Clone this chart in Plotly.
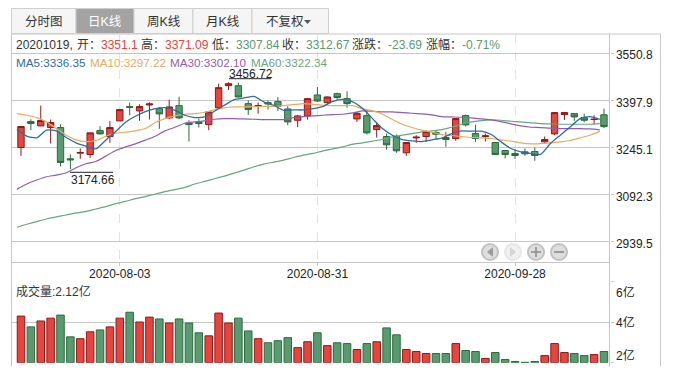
import plotly.graph_objects as go

W, H = 674, 373
date_labels = ["2020-08-03", "2020-08-31", "2020-09-28"]
date_index = [10, 30, 50]
price_ticks = [2939.5, 3092.3, 3245.1, 3397.9, 3550.8]
volume_ticks = [2, 4, 6]
volume_tick_labels = ["2亿", "4亿", "6亿"]

opens = [3245.1,3329.0,3315.1,3309.7,3309.7,3208.5,3226.8,3222.5,3300.0,3280.6,3331.2,3377.5,3363.5,3382.8,3371.0,3340.9,3380.7,3324.7,3328.0,3319.4,
         3373.2,3445.2,3445.2,3387.1,3378.5,3390.4,3393.6,3369.9,3333.3,3347.3,3415.1,3390.4,3419.4,3403.3,3337.6,3348.4,3303.2,3280.6,3281.7,3227.9,
         3276.3,3280.6,3293.5,3277.4,3274.2,3348.4,3290.3,3280.6,3261.3,3235.4,3225.8,3231.1,3232.2,3263.4,3289.2,3351.6,3354.9,3342.0,3335.5,3351.1]
highs = [3313.5,3336.6,3380.7,3335.5,3320.4,3222.5,3241.9,3293.0,3314.0,3331.2,3368.2,3390.4,3385.0,3391.4,3376.4,3400.1,3409.7,3333.3,3338.7,3360.6,
         3451.7,3456.72,3454.9,3397.9,3390.4,3397.9,3408.7,3378.5,3350.6,3405.4,3440.9,3410.8,3422.6,3426.9,3360.2,3365.6,3324.7,3290.3,3287.1,3261.8,
         3284.9,3301.1,3301.1,3295.7,3339.2,3351.6,3319.4,3290.3,3263.4,3236.0,3239.7,3241.9,3245.1,3280.6,3358.5,3360.2,3355.3,3354.9,3349.5,3371.09]
lows = [3218.2,3301.1,3314.0,3258.0,3183.8,3174.66,3208.5,3211.8,3287.1,3260.2,3330.8,3349.5,3331.2,3335.5,3305.4,3336.6,3336.6,3264.5,3309.7,3301.1,
        3371.0,3431.3,3406.5,3350.6,3354.9,3367.8,3363.5,3317.2,3310.7,3335.5,3392.5,3386.1,3400.1,3374.2,3328.0,3287.1,3277.4,3237.6,3227.9,3218.2,
        3260.2,3263.4,3272.0,3247.3,3266.6,3312.9,3263.4,3264.5,3221.5,3209.6,3207.5,3218.2,3202.1,3260.2,3284.9,3334.4,3331.2,3326.9,3320.4,3307.84]
closes = [3312.9,3322.6,3332.3,3325.8,3196.7,3205.3,3229.0,3292.5,3289.2,3309.7,3367.8,3375.3,3377.5,3386.1,3353.8,3376.4,3340.9,3319.4,3322.6,3360.2,
          3438.8,3451.7,3408.7,3367.8,3380.7,3386.1,3378.5,3328.0,3347.3,3403.3,3395.7,3408.7,3406.5,3387.1,3355.9,3292.5,3316.1,3253.7,3234.4,3261.3,
          3278.5,3296.8,3288.2,3270.9,3338.7,3318.3,3274.2,3282.8,3222.5,3222.5,3219.3,3224.7,3219.3,3270.9,3358.1,3358.1,3344.1,3333.3,3336.6,3312.67]
ma5 = [3303.2,3281.7,3276.3,3301.1,3298.9,3277.4,3260.2,3249.4,3240.8,3268.8,3296.8,3326.9,3346.3,3361.3,3371.0,3374.2,3365.6,3349.5,3342.0,3344.1,
       3362.4,3381.8,3400.1,3405.4,3410.8,3392.5,3381.8,3365.6,3366.7,3366.7,3371.0,3378.5,3394.7,3401.1,3392.5,3371.0,3338.7,3306.4,3284.9,3270.9,
       3266.6,3264.5,3269.9,3275.2,3290.3,3298.9,3297.8,3297.8,3287.1,3263.4,3241.9,3231.1,3225.8,3222.5,3258.0,3284.9,3311.8,3338.7,3345.2,3336.35]
ma10 = [3354.9,3349.5,3342.0,3328.0,3306.4,3284.9,3269.9,3264.5,3267.7,3281.7,3291.4,3294.6,3298.9,3306.4,3325.8,3338.7,3347.3,3352.7,3354.9,3359.2,
        3366.7,3373.2,3376.4,3376.4,3377.5,3378.5,3378.5,3380.7,3383.9,3387.1,3385.0,3381.8,3380.7,3380.7,3380.7,3369.9,3363.5,3352.7,3335.5,3320.4,
        3309.7,3301.1,3294.6,3287.1,3283.9,3280.6,3277.4,3276.3,3274.2,3269.9,3265.6,3260.2,3256.9,3258.0,3260.2,3263.4,3267.7,3276.3,3284.9,3297.22]
ma30 = [3109.6,3126.8,3139.7,3150.4,3155.8,3163.4,3179.5,3192.4,3199.9,3217.1,3235.4,3247.3,3257.0,3268.8,3281.7,3298.9,3310.7,3323.7,3328.0,3331.2,
        3336.6,3338.7,3338.7,3337.6,3336.6,3335.5,3335.5,3335.5,3342.0,3345.2,3347.3,3349.5,3351.6,3352.7,3357.0,3363.5,3362.4,3360.2,3360.2,3358.1,
        3355.9,3353.8,3350.6,3345.2,3344.1,3343.0,3340.9,3337.6,3334.4,3329.0,3321.5,3315.1,3310.7,3309.7,3307.5,3306.4,3306.4,3306.4,3305.4,3302.10]
ma60 = [2986.9,2996.6,3005.2,3013.8,3020.3,3026.7,3033.2,3038.5,3046.1,3053.6,3063.3,3070.8,3079.4,3085.9,3094.5,3102.0,3108.5,3116.0,3126.8,3135.4,
        3144.0,3152.6,3162.3,3172.0,3182.7,3191.3,3197.8,3204.2,3212.8,3220.4,3225.8,3234.4,3240.8,3247.3,3255.9,3260.2,3265.6,3270.9,3279.5,3284.9,
        3290.3,3295.7,3298.9,3303.2,3310.7,3320.4,3328.0,3332.3,3334.4,3333.3,3330.1,3328.0,3324.7,3322.6,3321.5,3320.4,3320.4,3320.4,3320.4,3322.34]
volume = [4.29,3.76,4.05,4.19,4.34,3.27,3.18,3.52,3.61,3.76,4.19,4.48,4.00,4.24,4.15,3.95,4.15,3.95,3.47,3.32,
          4.44,3.95,4.19,3.56,3.18,2.98,3.08,3.23,2.74,3.03,3.47,2.84,2.98,2.94,2.65,2.94,3.03,3.71,3.37,2.65,
          2.55,2.45,2.45,2.45,2.94,2.60,2.55,2.21,2.50,2.16,2.06,2.02,2.06,2.35,2.94,2.50,2.45,2.35,2.40,2.55]

RED, RED_D = "#e6453d", "#8c1a1c"
GREEN, GREEN_D = "#5a9a70", "#2b6a3c"
BLUE, ORANGE, PURPLE, MAGREEN = "#2f6c9e", "#e8ab5f", "#8f5fad", "#6aa582"
GRID = "#c6c6c6"
TXT = "#333333"
FONT = "Liberation Sans, Noto Sans CJK SC, sans-serif"


def fx(p):
    return p / W


def fy(p):
    return 1 - p / H


idx = list(range(len(closes)))
ma_x = [i - 0.42 for i in idx]
L, R = 11.5, 609.5
x_range = [-0.96, 59.56]
main_top, main_bot = 34.0, 262.3
vol_top, vol_bot = 281.3, 362.7
y_range = [2873.5, 3612.5]

fig = go.Figure()
fig.add_trace(go.Candlestick(
    x=idx, open=opens, high=highs, low=lows, close=closes, whiskerwidth=0,
    increasing=dict(fillcolor=RED, line=dict(color=RED_D, width=1)),
    decreasing=dict(fillcolor=GREEN, line=dict(color=GREEN_D, width=1)),
    xaxis="x", yaxis="y", showlegend=False))
for vals, col, w in [(ma60, MAGREEN, 1.2), (ma30, PURPLE, 1.2), (ma10, ORANGE, 1.2), (ma5, BLUE, 1.3)]:
    fig.add_trace(go.Scatter(x=ma_x, y=vals, mode="lines", line=dict(color=col, width=w, shape="spline", smoothing=0.6),
                             xaxis="x", yaxis="y", showlegend=False))
up = [c >= o for o, c in zip(opens, closes)]
fig.add_trace(go.Bar(
    x=idx, y=[v - 2 for v in volume], base=2, width=0.76, xaxis="x2", yaxis="y2", showlegend=False,
    marker=dict(color=[RED if u else GREEN for u in up],
                line=dict(color=[RED_D if u else GREEN_D for u in up], width=1))))

shapes = []


def line(x0, y0, x1, y1, color=GRID, width=1, layer="below", dash=None):
    shapes.append(dict(type="line", xref="paper", yref="paper", x0=fx(x0), x1=fx(x1), y0=fy(y0), y1=fy(y1),
                       line=dict(color=color, width=width, dash=dash), layer=layer))


# frame
line(L, main_top, L, 366.5)
line(R, main_top, R, 366.5)
line(660.5, main_top, 660.5, 366.5)
line(L, main_top, 660.5, main_top)
# tabs
tabs = [("分时图", 11.5, 76), ("日K线", 76, 134), ("周K线", 134, 193), ("月K线", 193, 252), ("不复权", 252, 328.5)]
annotations = []


def text(t, x, y, color=TXT, size=12, xanchor="left", **kw):
    annotations.append(dict(text=t, x=fx(x), y=fy(y), xref="paper", yref="paper", showarrow=False,
                            xanchor=xanchor, yanchor="middle", borderpad=0,
                            font=dict(family=FONT, size=size, color=color), **kw))


for i, (t, a, b) in enumerate(tabs):
    active = i == 1
    shapes.append(dict(type="rect", xref="paper", yref="paper", x0=fx(a), x1=fx(b), y0=fy(33.5), y1=fy(8.5),
                       fillcolor="#a3a3a3" if active else "#f5f5f5", line=dict(color="#cfcfcf", width=1), layer="below"))
    if i == 4:
        text(t, 265, 21.5, color=TXT, size=12.5)
    else:
        text(t, (a + b) / 2, 21.5, color="#ffffff" if active else TXT, size=12.5, xanchor="center")
shapes.append(dict(type="path", xref="paper", yref="paper",
                   path=f"M {fx(304)} {fy(20)} L {fx(311)} {fy(20)} L {fx(307.5)} {fy(24)} Z",
                   fillcolor="#555555", line=dict(width=0)))

# info row
info = [("20201019,", 15, TXT), ("开：", 76, TXT), ("3351.1", 100, RED), ("高：", 140, TXT), ("3371.09", 164, RED),
        ("低：", 211, TXT), ("3307.84", 235, GREEN), ("收：", 281, TXT), ("3312.67", 305, GREEN),
        ("涨跌：", 351, TXT), ("-23.69", 387, GREEN), ("涨幅：", 425, TXT), ("-0.71%", 461, GREEN)]
for t, x, c in info:
    text(t, x, 45, color=c)
legend = [("MA5:3336.35", 15, BLUE), ("MA10:3297.22", 89, ORANGE), ("MA30:3302.10", 169, PURPLE), ("MA60:3322.34", 250, MAGREEN)]
for t, x, c in legend:
    text(t, x, 62.5, color=c, size=11.7)
text("成交量:2.12亿", 15, 291)

# volume labels
for lab, y in zip(volume_tick_labels, [355, 322.5, 292]):
    text(lab, 614.5, y, color="#222222")

# extremes
annotations.append(dict(text="3456.72", x=21, y=highs[21], xref="x", yref="y", showarrow=False, xanchor="left", yanchor="middle",
                        xshift=-1, yshift=8, font=dict(family=FONT, size=12, color="#222222")))
line(229, 78.7, 271, 78.7, color="#222222", layer="above")
annotations.append(dict(text="3174.66", x=5, y=lows[5], xref="x", yref="y", showarrow=False, xanchor="left", yanchor="middle",
                        xshift=-1, yshift=-11, font=dict(family=FONT, size=12, color="#222222")))
line(70, 172.3, 113, 172.3, color="#222222", layer="above")

# nav buttons
for i, cx in enumerate([490, 513, 536, 559]):
    faint = i == 1
    shapes.append(dict(type="circle", xref="paper", yref="paper", x0=fx(cx - 8), x1=fx(cx + 8), y0=fy(252 + 8), y1=fy(252 - 8),
                       fillcolor="#f0f0f0" if faint else "#dedede", line=dict(color="#e6e6e6" if faint else "#c2c2c2", width=2), layer="above"))
    g = "#d4d4d4" if faint else "#9c9c9c"
    if i == 0:
        p = f"M {fx(cx+3)} {fy(247)} L {fx(cx+3)} {fy(257)} L {fx(cx-3)} {fy(252)} Z"
    elif i == 1:
        p = f"M {fx(cx-3)} {fy(247)} L {fx(cx-3)} {fy(257)} L {fx(cx+3)} {fy(252)} Z"
    elif i == 2:
        p = (f"M {fx(cx-5)} {fy(251)} L {fx(cx-1)} {fy(251)} L {fx(cx-1)} {fy(247)} L {fx(cx+1)} {fy(247)} L {fx(cx+1)} {fy(251)} "
             f"L {fx(cx+5)} {fy(251)} L {fx(cx+5)} {fy(253)} L {fx(cx+1)} {fy(253)} L {fx(cx+1)} {fy(257)} L {fx(cx-1)} {fy(257)} "
             f"L {fx(cx-1)} {fy(253)} L {fx(cx-5)} {fy(253)} Z")
    else:
        p = f"M {fx(cx-5)} {fy(251)} L {fx(cx+5)} {fy(251)} L {fx(cx+5)} {fy(253)} L {fx(cx-5)} {fy(253)} Z"
    shapes.append(dict(type="path", xref="paper", yref="paper", path=p, fillcolor=g, line=dict(width=0), layer="above"))

fig.update_layout(
    width=W, height=H, autosize=False, margin=dict(l=0, r=0, t=0, b=0),
    paper_bgcolor="#ffffff", plot_bgcolor="rgba(0,0,0,0)", showlegend=False, boxgap=0.08,
    font=dict(family=FONT, size=12, color="#222222"),
    shapes=shapes, annotations=annotations,
    xaxis=dict(domain=[fx(L), fx(R)], range=x_range, anchor="y", tickmode="array", tickvals=date_index, ticktext=date_labels,
               showgrid=True, gridcolor="#e2e2e2", griddash="dash", gridwidth=1, zeroline=False, showline=True, linecolor=GRID,
               ticks="outside", ticklen=3, tickcolor=GRID, ticklabelstandoff=-3, rangeslider=dict(visible=False), fixedrange=True,
               tickfont=dict(family=FONT, size=12, color="#222222")),
    yaxis=dict(domain=[fy(main_bot), fy(main_top)], range=y_range, side="right", anchor="x", tickmode="array", tickvals=price_ticks,
               ticktext=[f"{v:.1f}" for v in price_ticks], showgrid=True, gridcolor=GRID, gridwidth=1, zeroline=False, showline=False,
               ticks="outside", ticklen=3, tickcolor=GRID, ticklabelshift=2, fixedrange=True, tickfont=dict(family=FONT, size=12, color="#222222")),
    xaxis2=dict(domain=[fx(L), fx(R)], range=x_range, anchor="y2", showticklabels=False, showgrid=False, zeroline=False, fixedrange=True),
    yaxis2=dict(domain=[fy(vol_bot), fy(vol_top)], range=[2, 6], side="right", anchor="x2", tickmode="array", tickvals=volume_ticks,
                showticklabels=False, showgrid=True, gridcolor=GRID, gridwidth=1, zeroline=False, ticks="outside", ticklen=3, tickcolor=GRID, fixedrange=True),
)
fig.write_html("out.html", config=dict(displayModeBar=False), post_script="document.body.style.margin='0';")
